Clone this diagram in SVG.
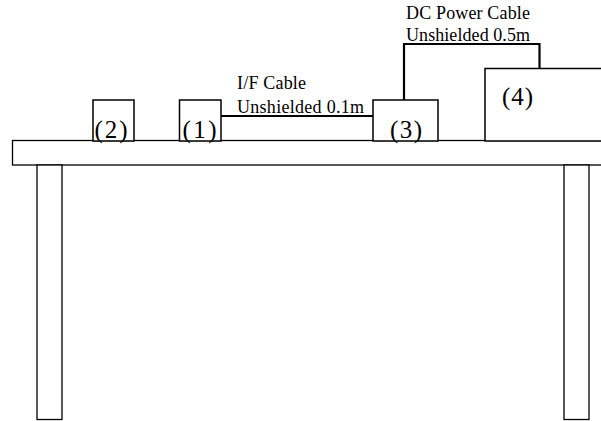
<svg xmlns="http://www.w3.org/2000/svg" width="601" height="421" viewBox="0 0 601 421">
<style>
.tbl{fill:#fff;stroke:#000;stroke-width:1.3}
.box{fill:#fff;stroke:#000;stroke-width:1.5}
.cab{fill:none;stroke:#000;stroke-width:2.2}
.lbl{font-family:"Liberation Serif","Times New Roman",serif;font-size:18px;fill:#000}
.num{font-family:"Liberation Serif","Times New Roman",serif;font-size:25px;fill:#000}
</style>
<rect width="601" height="421" fill="#fff"/>
<g id="table">
<rect class="tbl" x="12.5" y="140.5" width="600" height="24.5"/>
<rect class="tbl" x="37" y="165" width="25" height="254.5"/>
<rect class="tbl" x="564" y="165" width="25" height="254.5"/>
</g>
<g id="connectors">
<polyline class="cab" points="221,116 373,116"/>
<polyline class="cab" points="404,100 404,44 539.5,44 539.5,68.5"/>
</g>
<g id="node2">
<rect class="box" x="93" y="100" width="41" height="41"/>
<text class="num" x="94.5" y="138" textLength="33">(2)</text>
</g>
<g id="node1">
<rect class="box" x="179.5" y="100" width="41.5" height="41"/>
<text class="num" x="182.5" y="138" textLength="34">(1)</text>
</g>
<g id="node3">
<rect class="box" x="373" y="100" width="65" height="41"/>
<text class="num" x="390" y="138" textLength="32">(3)</text>
</g>
<g id="node4">
<rect class="box" x="485" y="68.5" width="130" height="72.5"/>
<text class="num" x="502" y="105" textLength="31">(4)</text>
</g>
<g id="labels">
<text class="lbl" x="237" y="89" textLength="69">I/F Cable</text>
<text class="lbl" x="237" y="113" textLength="127">Unshielded 0.1m</text>
<text class="lbl" x="406" y="19" textLength="124">DC Power Cable</text>
<text class="lbl" x="406" y="41" textLength="124">Unshielded 0.5m</text>
</g>
</svg>
